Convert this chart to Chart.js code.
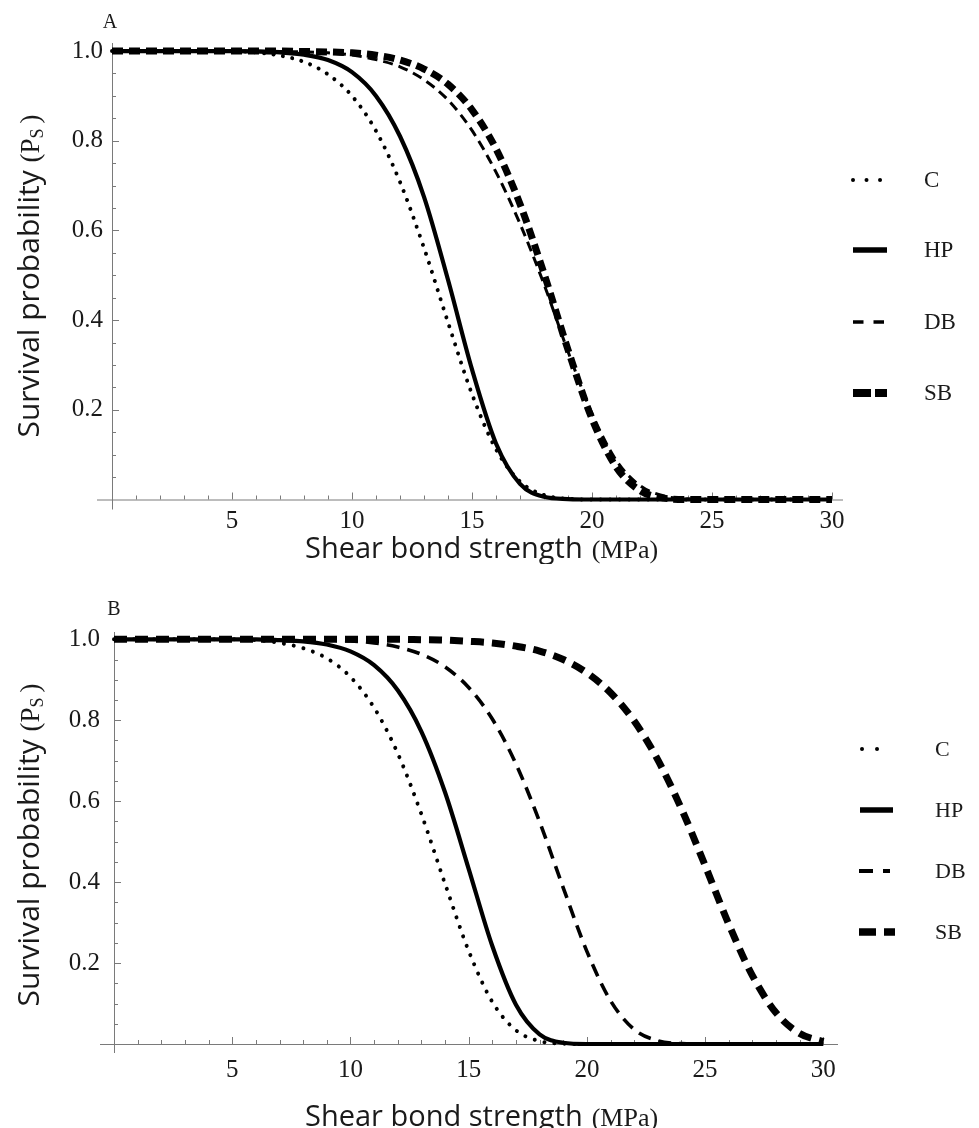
<!DOCTYPE html>
<html><head><meta charset="utf-8">
<script src="https://cdn.jsdelivr.net/npm/chart.js@4.4.1/dist/chart.umd.min.js"></script>
<style>
html,body{margin:0;padding:0;background:#fff;}
#wrap{position:relative;width:979px;height:1128px;overflow:hidden;}
canvas{display:block;}
</style></head><body>
<div id="wrap">
<canvas id="cA" width="979" height="564"></canvas>
<canvas id="cB" width="979" height="564"></canvas>
</div>
<script>
// ---- data ----
const strength = [0,1,2,3,4,5,6,7,8,9,10,11,12,13,14,15,16,17,18,19,20,21,22,23,24,25,26,27,28,29,30];
const seriesNames = ['C','HP','DB','SB'];

const panelA_C  = [1,1,1,1,1,1,0.997,0.99,0.976,0.948,0.90,0.822,0.708,0.561,0.395,0.235,0.112,0.04,0.01,0.0015,0,0,0,0,0,0,0,0,0,0,0];
const panelA_HP = [1,1,1,1,1,1,0.999,0.997,0.992,0.98,0.953,0.90,0.81,0.675,0.49,0.29,0.125,0.035,0.006,0.001,0,0,0,0,0,0,0,0,0,0,0];
const panelA_DB = [1,1,1,1,1,1,1,0.999,0.998,0.996,0.991,0.981,0.965,0.936,0.891,0.823,0.73,0.615,0.48,0.33,0.192,0.088,0.031,0.008,0.0012,0,0,0,0,0,0];
const panelA_SB = [1,1,1,1,1,1,1,1,0.999,0.998,0.996,0.991,0.98,0.96,0.926,0.869,0.782,0.659,0.504,0.334,0.18,0.073,0.02,0.003,0,0,0,0,0,0,0];

const panelB_C  = [1,1,1,1,1,1,0.998,0.991,0.978,0.953,0.907,0.831,0.718,0.568,0.396,0.23,0.104,0.034,0.007,0.001,0,0,0,0,0,0,0,0,0,0,0];
const panelB_HP = [1,1,1,1,1,1,1,0.998,0.995,0.987,0.97,0.936,0.874,0.772,0.622,0.433,0.242,0.097,0.024,0.003,0,0,0,0,0,0,0,0,0,0,0];
const panelB_DB = [1,1,1,1,1,1,1,1,1,0.998,0.996,0.991,0.981,0.963,0.932,0.881,0.803,0.692,0.549,0.386,0.229,0.107,0.036,0.008,0.001,0,0,0,0,0,0];
const panelB_SB = [1,1,1,1,1,1,1,1,1,1,1,1,1,0.999,0.998,0.995,0.991,0.983,0.971,0.95,0.917,0.868,0.798,0.702,0.581,0.441,0.296,0.169,0.077,0.026,0.006];

const xTickValues = [5,10,15,20,25,30];
const yTickValues = [0.2,0.4,0.6,0.8,1.0];
const xTitleMain = 'Shear bond strength';
const xTitleUnit = '(MPa)';
const yTitleMain = 'Survival probability';
const panelLetters = ['A','B'];

// ---- styles ----
const SERIF = '"Liberation Serif", "Times New Roman", serif';
const SANS = '"Open Sans", "DejaVu Sans", sans-serif';
const AXIS_COLOR = '#7a7a7a';
const TEXT_COLOR = '#1a1a1a';

function lineStyles(panel){
  const big = panel === 'B';
  return {
    C:  {borderWidth: 4, borderDash: [0.01, big ? 10 : 9.5], borderCapStyle: 'round'},
    HP: {borderWidth: 4.2, borderDash: [], borderCapStyle: 'butt'},
    DB: {borderWidth: big ? 3.6 : 3, borderDash: big ? [13, 8] : [10, 6], borderCapStyle: 'butt'},
    SB: {borderWidth: 7, borderDash: big ? [13, 8] : [11, 6], borderCapStyle: 'butt'}
  };
}

function makeDatasets(panel, arrays){
  const st = lineStyles(panel);
  return seriesNames.map((name, i) => ({
    label: name,
    data: strength.map((x, k) => ({x: x, y: arrays[i][k]})),
    borderColor: '#000',
    backgroundColor: '#000',
    borderWidth: st[name].borderWidth,
    borderDash: st[name].borderDash,
    borderCapStyle: st[name].borderCapStyle,
    borderJoinStyle: 'round',
    pointRadius: 0,
    fill: false,
    cubicInterpolationMode: 'monotone',
    clip: false,
    order: 3 - i
  }));
}

const mathAxes = {
  id: 'mathAxes',
  beforeDatasetsDraw(chart, args, o) {
    const ctx = chart.ctx;
    const xs = chart.scales.x, ys = chart.scales.y;
    const x0 = xs.getPixelForValue(0), y0 = ys.getPixelForValue(0);
    ctx.save();
    ctx.strokeStyle = AXIS_COLOR;
    ctx.lineWidth = 1;
    ctx.beginPath();
    ctx.moveTo(x0 - o.extLeft, y0 + 0.5); ctx.lineTo(chart.chartArea.right, y0 + 0.5);
    ctx.moveTo(x0 + 0.5, chart.chartArea.top); ctx.lineTo(x0 + 0.5, y0 + o.extBottom);
    for (let v = 1; v <= 30; v++) {
      const px = Math.round(xs.getPixelForValue(v)) + 0.5;
      const len = (v % 5 === 0) ? 7 : 4;
      ctx.moveTo(px, y0); ctx.lineTo(px, y0 - len);
    }
    for (let k = 1; k <= 20; k++) {
      const v = k * 0.05;
      const py = Math.round(ys.getPixelForValue(v)) + 0.5;
      const len = (k % 4 === 0) ? 7 : 4;
      ctx.moveTo(x0, py); ctx.lineTo(x0 + len, py);
    }
    ctx.stroke();
    ctx.restore();
  },
  afterDraw(chart, args, o) {
    const ctx = chart.ctx;
    ctx.save();
    ctx.fillStyle = TEXT_COLOR;
    ctx.textBaseline = 'alphabetic';
    // panel letter
    ctx.font = '20px ' + SERIF;
    ctx.textAlign = 'center';
    ctx.fillText(o.letter, o.letterX, o.letterBase);
    ctx.textAlign = 'left';
    // x title
    ctx.font = '29px ' + SANS;
    ctx.fillText(xTitleMain, o.xTitleX, o.xTitleBase);
    const w1 = ctx.measureText(xTitleMain).width;
    ctx.font = '26px ' + SERIF;
    ctx.fillText(xTitleUnit, o.xTitleX + w1 + 9, o.xTitleBase);
    // y title (rotated)
    ctx.save();
    ctx.translate(o.yTitleBaseX, o.yTitleCenter);
    ctx.rotate(-Math.PI / 2);
    ctx.font = '30px ' + SANS;
    const wm = ctx.measureText(yTitleMain + ' ').width;
    ctx.font = '27px ' + SERIF;
    const wo = ctx.measureText('(P').width;
    ctx.font = '18px ' + SERIF;
    const ws = ctx.measureText('S').width;
    ctx.font = '27px ' + SERIF;
    const wc = ctx.measureText(')').width;
    const total = wm + wo + ws + wc + 5;
    let cx = -total / 2;
    ctx.font = '30px ' + SANS;
    ctx.fillText(yTitleMain + ' ', cx, 0); cx += wm;
    ctx.font = '27px ' + SERIF;
    ctx.fillText('(P', cx, 0); cx += wo;
    ctx.font = '18px ' + SERIF;
    ctx.fillText('S', cx, 4); cx += ws + 5;
    ctx.font = '27px ' + SERIF;
    ctx.fillText(')', cx, 0);
    ctx.restore();
    // legend
    const metas = chart.data.datasets;
    metas.forEach((ds, i) => {
      const y = o.legendY[i];
      const s = o.legendStyles[i];
      ctx.save();
      ctx.strokeStyle = '#000';
      ctx.lineWidth = s.w;
      ctx.lineCap = s.cap || 'butt';
      ctx.setLineDash(s.dash);
      ctx.beginPath();
      ctx.moveTo(s.x1, y); ctx.lineTo(s.x2, y);
      ctx.stroke();
      ctx.restore();
      ctx.font = o.legendFont + 'px ' + SERIF;
      ctx.textBaseline = 'middle';
      ctx.fillText(ds.label, o.legendTextX, y + 1);
    });
    ctx.restore();
  }
};

function makeChart(canvasId, panel, arrays, geo) {
  return new Chart(document.getElementById(canvasId), {
    type: 'line',
    data: { datasets: makeDatasets(panel, arrays) },
    plugins: [mathAxes],
    options: {
      responsive: false,
      devicePixelRatio: 1,
      animation: false,
      events: [],
      layout: { padding: { top: geo.top, right: geo.right, left: 0, bottom: 0 } },
      plugins: {
        legend: { display: false },
        tooltip: { enabled: false },
        title: { display: false },
        mathAxes: geo.plugin
      },
      scales: {
        x: {
          type: 'linear', min: 0, max: geo.xMax,
          grid: { display: false, drawTicks: false },
          border: { display: false },
          afterBuildTicks: (s) => { s.ticks = xTickValues.map(v => ({value: v})); },
          afterFit: (s) => { s.height = geo.xHeight; },
          ticks: { autoSkip: false, maxRotation: 0, padding: geo.xPad, color: TEXT_COLOR,
                   font: { family: SERIF, size: 25 }, callback: (v) => String(v) }
        },
        y: {
          type: 'linear', min: 0, max: geo.yMax,
          grid: { display: false, drawTicks: false },
          border: { display: false },
          afterBuildTicks: (s) => { s.ticks = yTickValues.map(v => ({value: v})); },
          afterFit: (s) => { s.width = geo.yWidth; },
          ticks: { autoSkip: false, padding: geo.yPad, color: TEXT_COLOR,
                   font: { family: SERIF, size: 25 }, callback: (v) => Number(v).toFixed(1) }
        }
      }
    }
  });
}

makeChart('cA', 'A', [panelA_C, panelA_HP, panelA_DB, panelA_SB], {
  top: 43, right: 136, yWidth: 112, xHeight: 64.5, xMax: 30.458, yMax: 1.018, xPad: 7, yPad: 9,
  plugin: {
    letter: panelLetters[0], letterX: 110, letterBase: 28,
    extLeft: 15, extBottom: 10,
    xTitleX: 305, xTitleBase: 558,
    yTitleBaseX: 39, yTitleCenter: 276,
    legendTextX: 924, legendFont: 23,
    legendY: [180, 250, 322, 393],
    legendStyles: [
      {x1: 853, x2: 882, w: 4, dash: [0.01, 13.5], cap: 'round'},
      {x1: 853, x2: 887, w: 5.5, dash: []},
      {x1: 853, x2: 884, w: 3.5, dash: [10.5, 10]},
      {x1: 853, x2: 887, w: 8, dash: [18, 4]}
    ]
  }
});

makeChart('cB', 'B', [panelB_C, panelB_HP, panelB_DB, panelB_SB], {
  top: 68, right: 141, yWidth: 114, xHeight: 84, xMax: 30.62, yMax: 1.018, xPad: 11, yPad: 14,
  plugin: {
    letter: panelLetters[1], letterX: 114, letterBase: 51,
    extLeft: 14, extBottom: 9,
    xTitleX: 305, xTitleBase: 562,
    yTitleBaseX: 39, yTitleCenter: 281,
    legendTextX: 935, legendFont: 22,
    legendY: [185, 246, 307, 368],
    legendStyles: [
      {x1: 862, x2: 880, w: 4, dash: [0.01, 15], cap: 'round'},
      {x1: 860, x2: 893, w: 5.5, dash: []},
      {x1: 859, x2: 890, w: 4, dash: [14, 10]},
      {x1: 859, x2: 895, w: 7.5, dash: [17, 8]}
    ]
  }
});
</script>
</body></html>
